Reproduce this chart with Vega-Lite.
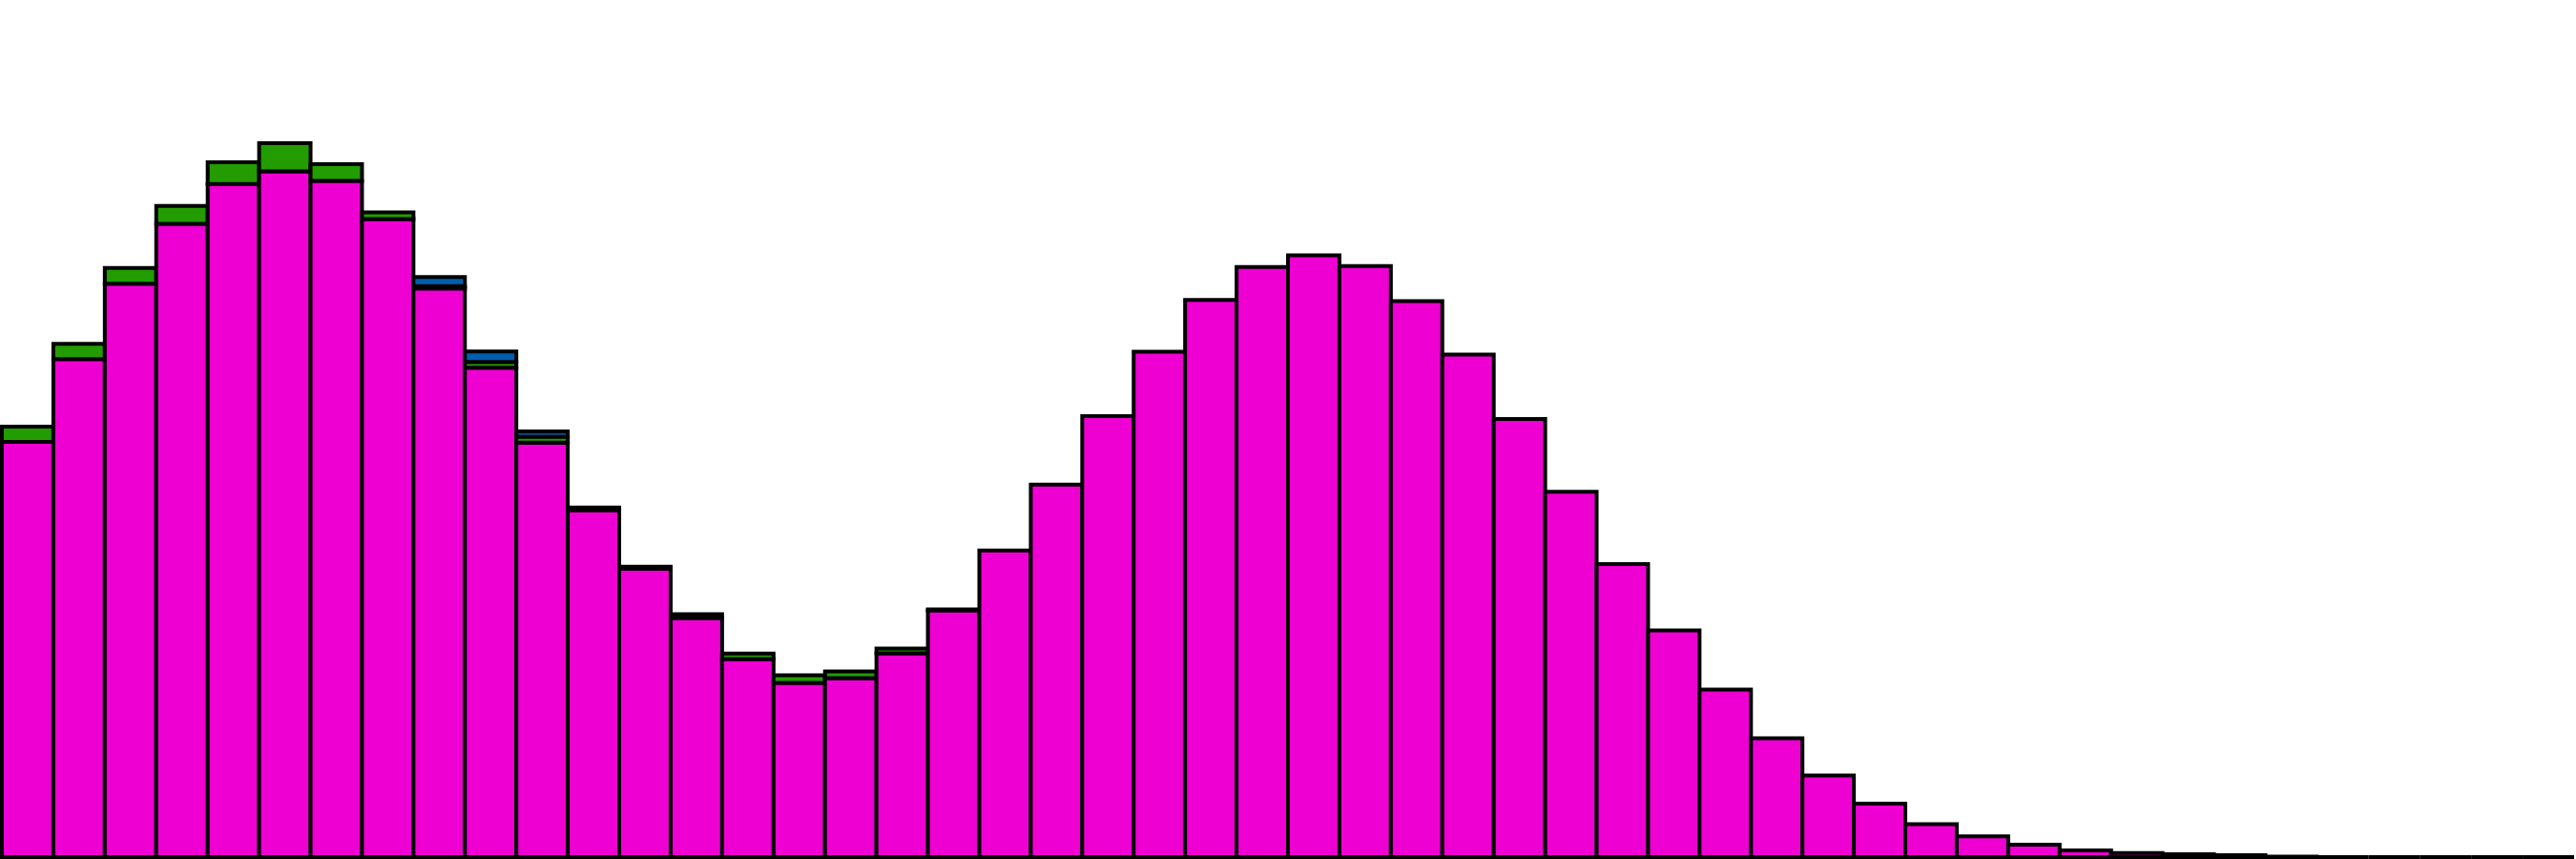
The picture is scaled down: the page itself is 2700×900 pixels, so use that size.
{
  "$schema": "https://vega.github.io/schema/vega-lite/v6.json",
  "autosize": {"type": "fit", "contains": "padding"},
  "width": 2700,
  "height": 900,
  "padding": 0,
  "background": "white",
  "data": {
    "values": [
      {"bin": 0, "group": "pink", "layer": 1, "count": 436},
      {"bin": 0, "group": "green", "layer": 2, "count": 16},
      {"bin": 1, "group": "pink", "layer": 1, "count": 523},
      {"bin": 1, "group": "green", "layer": 2, "count": 16},
      {"bin": 2, "group": "pink", "layer": 1, "count": 602},
      {"bin": 2, "group": "green", "layer": 2, "count": 16.7},
      {"bin": 3, "group": "pink", "layer": 1, "count": 665},
      {"bin": 3, "group": "green", "layer": 2, "count": 18.7},
      {"bin": 4, "group": "pink", "layer": 1, "count": 706.7},
      {"bin": 4, "group": "green", "layer": 2, "count": 23},
      {"bin": 5, "group": "pink", "layer": 1, "count": 720},
      {"bin": 5, "group": "green", "layer": 2, "count": 29.7},
      {"bin": 6, "group": "pink", "layer": 1, "count": 710},
      {"bin": 6, "group": "green", "layer": 2, "count": 17.7},
      {"bin": 7, "group": "pink", "layer": 1, "count": 670},
      {"bin": 7, "group": "green", "layer": 2, "count": 7},
      {"bin": 8, "group": "pink", "layer": 1, "count": 597},
      {"bin": 8, "group": "green", "layer": 2, "count": 2.7},
      {"bin": 8, "group": "blue", "layer": 3, "count": 9.3},
      {"bin": 9, "group": "pink", "layer": 1, "count": 514},
      {"bin": 9, "group": "green", "layer": 2, "count": 6},
      {"bin": 9, "group": "blue", "layer": 3, "count": 11},
      {"bin": 10, "group": "pink", "layer": 1, "count": 435.3},
      {"bin": 10, "group": "green", "layer": 2, "count": 6.3},
      {"bin": 10, "group": "blue", "layer": 3, "count": 5.3},
      {"bin": 11, "group": "pink", "layer": 1, "count": 364.3},
      {"bin": 11, "group": "green", "layer": 2, "count": 2.7},
      {"bin": 12, "group": "pink", "layer": 1, "count": 303},
      {"bin": 12, "group": "green", "layer": 2, "count": 2},
      {"bin": 13, "group": "pink", "layer": 1, "count": 251},
      {"bin": 13, "group": "green", "layer": 2, "count": 4},
      {"bin": 14, "group": "pink", "layer": 1, "count": 208},
      {"bin": 14, "group": "green", "layer": 2, "count": 5.7},
      {"bin": 15, "group": "pink", "layer": 1, "count": 183},
      {"bin": 15, "group": "green", "layer": 2, "count": 8},
      {"bin": 16, "group": "pink", "layer": 1, "count": 188},
      {"bin": 16, "group": "green", "layer": 2, "count": 7},
      {"bin": 17, "group": "pink", "layer": 1, "count": 214},
      {"bin": 17, "group": "green", "layer": 2, "count": 5},
      {"bin": 18, "group": "pink", "layer": 1, "count": 259},
      {"bin": 18, "group": "green", "layer": 2, "count": 1},
      {"bin": 19, "group": "pink", "layer": 1, "count": 322},
      {"bin": 20, "group": "pink", "layer": 1, "count": 391},
      {"bin": 21, "group": "pink", "layer": 1, "count": 463},
      {"bin": 22, "group": "pink", "layer": 1, "count": 530.7},
      {"bin": 23, "group": "pink", "layer": 1, "count": 585},
      {"bin": 24, "group": "pink", "layer": 1, "count": 619.7},
      {"bin": 25, "group": "pink", "layer": 1, "count": 632},
      {"bin": 26, "group": "pink", "layer": 1, "count": 620.7},
      {"bin": 27, "group": "pink", "layer": 1, "count": 583.7},
      {"bin": 28, "group": "pink", "layer": 1, "count": 527.7},
      {"bin": 29, "group": "pink", "layer": 1, "count": 460},
      {"bin": 30, "group": "pink", "layer": 1, "count": 383.7},
      {"bin": 31, "group": "pink", "layer": 1, "count": 307.7},
      {"bin": 32, "group": "pink", "layer": 1, "count": 238},
      {"bin": 33, "group": "pink", "layer": 1, "count": 176},
      {"bin": 34, "group": "pink", "layer": 1, "count": 124.7},
      {"bin": 35, "group": "pink", "layer": 1, "count": 85.7},
      {"bin": 36, "group": "pink", "layer": 1, "count": 56},
      {"bin": 37, "group": "pink", "layer": 1, "count": 34.7},
      {"bin": 38, "group": "pink", "layer": 1, "count": 21.7},
      {"bin": 39, "group": "pink", "layer": 1, "count": 13},
      {"bin": 40, "group": "pink", "layer": 1, "count": 7},
      {"bin": 41, "group": "pink", "layer": 1, "count": 4.3},
      {"bin": 42, "group": "pink", "layer": 1, "count": 3},
      {"bin": 43, "group": "pink", "layer": 1, "count": 2},
      {"bin": 44, "group": "pink", "layer": 1, "count": 0.5},
      {"bin": 45, "group": "pink", "layer": 1, "count": 0},
      {"bin": 46, "group": "pink", "layer": 1, "count": 0},
      {"bin": 47, "group": "pink", "layer": 1, "count": 0},
      {"bin": 48, "group": "pink", "layer": 1, "count": 0},
      {"bin": 49, "group": "pink", "layer": 1, "count": 0}
    ]
  },
  "mark": {
    "type": "bar",
    "stroke": "black",
    "strokeWidth": 4,
    "strokeJoin": "miter"
  },
  "encoding": {
    "x": {
      "field": "bin",
      "type": "ordinal",
      "sort": "ascending",
      "scale": {"paddingInner": 0, "paddingOuter": 0},
      "axis": null
    },
    "y": {
      "field": "count",
      "type": "quantitative",
      "stack": "zero",
      "scale": {"domain": [0, 900], "nice": false},
      "axis": null
    },
    "color": {
      "field": "group",
      "type": "nominal",
      "scale": {
        "domain": ["pink", "green", "blue"],
        "range": ["#ee00d2", "#229c00", "#005eb0"]
      },
      "legend": null
    },
    "order": {"field": "layer", "type": "quantitative", "sort": "ascending"}
  },
  "config": {
    "view": {"stroke": null}
  }
}
